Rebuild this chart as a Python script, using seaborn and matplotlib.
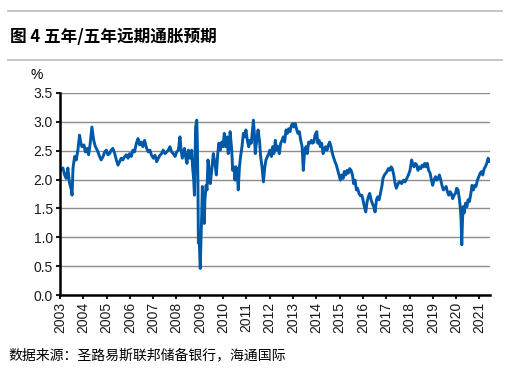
import numpy as np
import pandas as pd
import matplotlib
matplotlib.use("Agg")
import matplotlib.pyplot as plt
from matplotlib.lines import Line2D
import seaborn as sns

# 5y5y 远期通胀预期 (读图估计, 年份小数 / %)
anos = [
    2003.03, 2003.13, 2003.20, 2003.27, 2003.34, 2003.41, 2003.49, 2003.52, 2003.56, 2003.63,
    2003.70, 2003.77, 2003.84, 2003.89, 2003.94, 2004.03, 2004.09, 2004.17, 2004.23, 2004.30,
    2004.37, 2004.45, 2004.52, 2004.60, 2004.70, 2004.77, 2004.85, 2004.92, 2004.99, 2005.06,
    2005.13, 2005.20, 2005.27, 2005.35, 2005.42, 2005.49, 2005.56, 2005.63, 2005.70, 2005.78,
    2005.85, 2005.92, 2005.99, 2006.06, 2006.13, 2006.20, 2006.28, 2006.35, 2006.42, 2006.49,
    2006.56, 2006.63, 2006.72, 2006.79, 2006.86, 2006.93, 2007.01, 2007.08, 2007.15, 2007.22,
    2007.29, 2007.36, 2007.43, 2007.51, 2007.58, 2007.65, 2007.72, 2007.79, 2007.86, 2007.94,
    2008.01, 2008.08, 2008.15, 2008.19, 2008.25, 2008.34, 2008.39, 2008.45, 2008.51, 2008.58,
    2008.65, 2008.69, 2008.74, 2008.77, 2008.79, 2008.82, 2008.87, 2008.89, 2008.92, 2008.94,
    2008.97, 2008.99, 2009.02, 2009.05, 2009.08, 2009.11, 2009.15, 2009.19, 2009.22, 2009.27,
    2009.31, 2009.35, 2009.39, 2009.45, 2009.51, 2009.58, 2009.65, 2009.71, 2009.77, 2009.82,
    2009.88, 2009.94, 2010.00, 2010.05, 2010.11, 2010.17, 2010.22, 2010.28, 2010.30, 2010.37,
    2010.41, 2010.47, 2010.51, 2010.55, 2010.61, 2010.65, 2010.70, 2010.75, 2010.81, 2010.87,
    2010.93, 2010.98, 2011.04, 2011.10, 2011.15, 2011.21, 2011.27, 2011.30, 2011.34, 2011.38,
    2011.44, 2011.50, 2011.56, 2011.61, 2011.67, 2011.73, 2011.79, 2011.84, 2011.90, 2011.96,
    2012.01, 2012.07, 2012.13, 2012.18, 2012.24, 2012.30, 2012.36, 2012.41, 2012.47, 2012.53,
    2012.58, 2012.64, 2012.70, 2012.76, 2012.81, 2012.87, 2012.93, 2012.99, 2013.04, 2013.10,
    2013.16, 2013.21, 2013.27, 2013.33, 2013.39, 2013.44, 2013.50, 2013.56, 2013.61, 2013.67,
    2013.73, 2013.79, 2013.84, 2013.90, 2013.94, 2014.02, 2014.06, 2014.12, 2014.17, 2014.23,
    2014.29, 2014.34, 2014.40, 2014.46, 2014.52, 2014.57, 2014.63, 2014.69, 2014.75, 2014.80,
    2014.86, 2014.92, 2014.97, 2015.03, 2015.09, 2015.15, 2015.20, 2015.26, 2015.32, 2015.37,
    2015.43, 2015.49, 2015.55, 2015.60, 2015.66, 2015.72, 2015.77, 2015.83, 2015.89, 2015.95,
    2016.00, 2016.06, 2016.12, 2016.18, 2016.23, 2016.29, 2016.35, 2016.40, 2016.46, 2016.52,
    2016.58, 2016.63, 2016.69, 2016.75, 2016.81, 2016.86, 2016.92, 2016.98, 2017.03, 2017.09,
    2017.15, 2017.21, 2017.26, 2017.32, 2017.38, 2017.43, 2017.49, 2017.55, 2017.59, 2017.66,
    2017.74, 2017.81, 2017.88, 2017.95, 2018.02, 2018.09, 2018.13, 2018.19, 2018.25, 2018.31,
    2018.36, 2018.42, 2018.48, 2018.54, 2018.59, 2018.65, 2018.71, 2018.76, 2018.82, 2018.88,
    2018.94, 2018.99, 2019.05, 2019.11, 2019.17, 2019.22, 2019.28, 2019.34, 2019.39, 2019.45,
    2019.51, 2019.57, 2019.62, 2019.68, 2019.74, 2019.79, 2019.85, 2019.91, 2019.97, 2020.02,
    2020.08, 2020.14, 2020.18, 2020.21, 2020.24, 2020.27, 2020.30, 2020.34, 2020.40, 2020.46,
    2020.51, 2020.57, 2020.63, 2020.68, 2020.74, 2020.80, 2020.85, 2020.91, 2020.97, 2021.03,
    2021.09, 2021.14, 2021.20, 2021.25, 2021.31, 2021.37, 2021.43, 2021.46,
]
valores = [
    2.17, 2.20, 2.08, 2.02, 2.20, 1.94, 1.82, 1.73, 2.20, 2.40,
    2.34, 2.51, 2.77, 2.65, 2.57, 2.60, 2.48, 2.54, 2.43, 2.63,
    2.91, 2.68, 2.57, 2.51, 2.40, 2.34, 2.40, 2.48, 2.51, 2.43,
    2.45, 2.51, 2.54, 2.45, 2.34, 2.25, 2.31, 2.37, 2.34, 2.40,
    2.43, 2.37, 2.45, 2.40, 2.51, 2.48, 2.63, 2.71, 2.60, 2.65,
    2.57, 2.68, 2.54, 2.48, 2.51, 2.42, 2.37, 2.42, 2.31, 2.37,
    2.42, 2.45, 2.51, 2.45, 2.48, 2.51, 2.57, 2.48, 2.45, 2.40,
    2.48, 2.51, 2.74, 2.54, 2.37, 2.54, 2.40, 2.28, 2.51, 2.37,
    2.51, 2.22, 1.99, 1.73, 2.22, 2.91, 3.03, 2.74, 1.93, 0.90,
    1.07, 0.78, 0.46, 0.95, 1.36, 1.88, 1.53, 1.24, 1.65, 1.90,
    1.82, 2.34, 2.22, 1.93, 2.16, 2.45, 2.28, 2.08, 2.45, 2.63,
    2.51, 2.65, 2.57, 2.80, 2.57, 2.74, 2.45, 2.63, 2.83, 2.51,
    2.16, 2.22, 1.99, 2.22, 2.14, 1.82, 2.22, 2.40, 2.57, 2.80,
    2.74, 2.86, 2.68, 2.57, 2.68, 2.63, 2.91, 3.03, 2.80, 2.45,
    2.68, 2.86, 2.68, 2.40, 2.22, 1.96, 2.22, 2.34, 2.40, 2.45,
    2.51, 2.40, 2.57, 2.45, 2.68, 2.51, 2.57, 2.45, 2.63, 2.68,
    2.74, 2.65, 2.86, 2.80, 2.88, 2.83, 2.94, 2.97, 2.91, 2.97,
    2.86, 2.80, 2.83, 2.68, 2.57, 2.16, 2.51, 2.57, 2.45, 2.65,
    2.63, 2.68, 2.63, 2.65, 2.77, 2.83, 2.63, 2.68, 2.57, 2.63,
    2.45, 2.51, 2.57, 2.51, 2.60, 2.65, 2.57, 2.45, 2.37, 2.31,
    2.25, 2.16, 2.08, 1.99, 2.08, 2.02, 2.14, 2.08, 2.16, 2.11,
    2.19, 2.16, 2.08, 1.93, 1.99, 1.82, 1.85, 1.76, 1.72, 1.73,
    1.65, 1.53, 1.44, 1.62, 1.70, 1.76, 1.65, 1.59, 1.53, 1.44,
    1.65, 1.70, 1.65, 1.76, 1.88, 2.02, 2.08, 2.11, 2.14, 2.19,
    2.16, 2.22, 2.19, 2.08, 1.93, 1.85, 1.91, 1.96, 1.96, 1.93,
    1.99, 1.96, 2.02, 2.08, 2.16, 2.34, 2.28, 2.22, 2.28, 2.25,
    2.16, 2.22, 2.19, 2.25, 2.22, 2.28, 2.22, 2.28, 2.16, 2.11,
    1.99, 1.90, 1.99, 2.05, 1.99, 2.02, 2.08, 1.99, 1.90, 1.82,
    1.85, 1.88, 1.79, 1.73, 1.79, 1.76, 1.67, 1.73, 1.76, 1.85,
    1.82, 1.65, 1.50, 1.30, 0.87, 1.30, 1.53, 1.42, 1.59, 1.53,
    1.65, 1.62, 1.76, 1.90, 1.82, 1.90, 1.88, 1.99, 2.05, 2.11,
    2.14, 2.08, 2.19, 2.22, 2.28, 2.37, 2.31, 2.34,
]
anos_ticks = list(range(2003, 2022))
y_ticks = [0.0, 0.5, 1.0, 1.5, 2.0, 2.5, 3.0, 3.5]

titulo = "图 4 五年/五年远期通胀预期"
fuente = "数据来源：圣路易斯联邦储备银行，海通国际"

plt.rcParams["font.family"] = ["Liberation Sans", "Noto Sans CJK SC"]
CJK = ["Noto Sans CJK SC", "DejaVu Sans"]

df = pd.DataFrame({"anio": anos, "valor": valores})

fig = plt.figure(figsize=(5.08, 3.69), dpi=100)
ax = fig.add_axes([0.118, 0.2005, 0.847, 0.5475])

ax.yaxis.grid(True, color="#8c8c8c", linewidth=1.0)
ax.set_axisbelow(True)
sns.lineplot(data=df, x="anio", y="valor", ax=ax, color="#0058A8", linewidth=2.1)

ax.set_xlim(2003, 2021.46)
ax.set_ylim(0, 3.5)
ax.set_xticks(anos_ticks)
ax.set_xticklabels([str(a) for a in anos_ticks], rotation=90, fontsize=10)
ax.set_yticks(y_ticks)
ax.set_yticklabels([f"{v:.1f}" for v in y_ticks], fontsize=10)
ax.set_xlabel("")
ax.set_ylabel("")

for lado in ["top", "right"]:
    ax.spines[lado].set_visible(False)
for lado in ["left", "bottom"]:
    ax.spines[lado].set_linewidth(1.8)
    ax.spines[lado].set_color("black")
ax.tick_params(axis="both", direction="out", length=3, width=1.5, pad=2, colors="#1a1a1a")

# cabecera y pie
fig.add_artist(Line2D([0.016, 0.988], [0.970, 0.970], color="#c0c0c0", linewidth=1.3))
fig.add_artist(Line2D([0.016, 0.988], [0.837, 0.837], color="#c0c0c0", linewidth=1.3))
fig.text(0.020, 0.90, titulo, fontsize=12, fontweight="bold", family=CJK, va="center")
fig.text(0.072, 0.797, "%", fontsize=10, va="center", ha="center")
fig.text(0.016, 0.038, fuente, fontsize=10, family=CJK, style="italic", va="center")

fig.savefig("out.png", dpi=100)
